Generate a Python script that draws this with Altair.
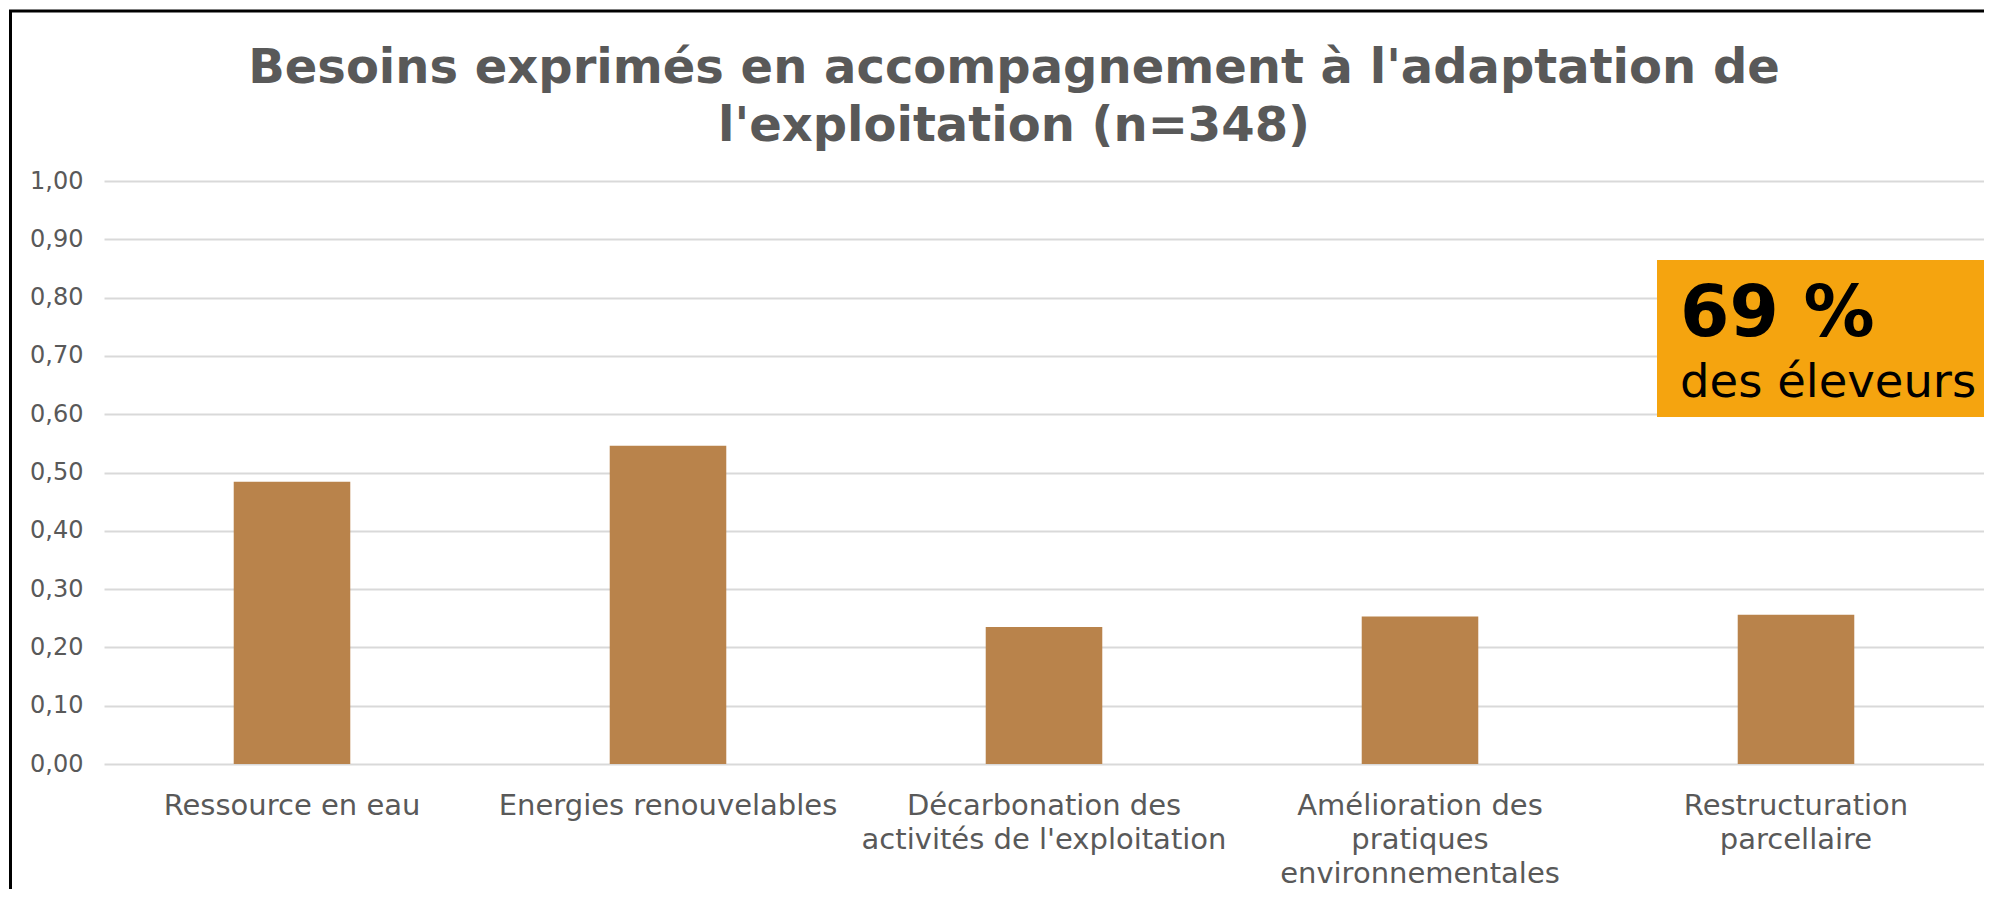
import altair as alt
import pandas as pd

# ---- data -------------------------------------------------------------
categories = [
    "Ressource en eau",
    "Energies renouvelables",
    "Décarbonation des\nactivités de l'exploitation",
    "Amélioration des\npratiques\nenvironnementales",
    "Restructuration\nparcellaire",
]
values = [0.484, 0.546, 0.235, 0.253, 0.256]
y_ticks = [0.0, 0.1, 0.2, 0.3, 0.4, 0.5, 0.6, 0.7, 0.8, 0.9, 1.0]
title_line1 = "Besoins exprimés en accompagnement à l'adaptation de"
title_line2 = "l'exploitation (n=348)"
callout_big = "69 %"
callout_small = "des éleveurs"

df = pd.DataFrame({"cat": categories, "val": values})

W = 1880
H = 583
GRAY = "#595959"
FONT = "DejaVu Sans"

bars = alt.Chart(df).mark_bar(color="#B9834B").encode(
    x=alt.X(
        "cat:N",
        sort=categories,
        scale=alt.Scale(paddingInner=0.69, paddingOuter=0.345),
        axis=alt.Axis(
            title="",
            labelAngle=0,
            domain=False,
            ticks=False,
            labelFont=FONT,
            labelFontSize=29,
            labelColor=GRAY,
            labelPadding=27,
            labelLimit=500,
            labelLineHeight=34,
            labelBaseline="top",
            labelExpr="split(datum.label, '\\n')",
        ),
    ),
    y=alt.Y(
        "val:Q",
        scale=alt.Scale(domain=[0, 1], nice=False),
        axis=alt.Axis(
            title="",
            values=y_ticks,
            format=".2f",
            labelExpr="replace(datum.label, '.', ',')",
            domain=False,
            ticks=False,
            grid=True,
            gridColor="#D9D9D9",
            gridWidth=2,
            labelFont=FONT,
            labelFontSize=24,
            labelColor=GRAY,
            labelPadding=21,
        ),
    ),
)

one = alt.Data(values=[{}])

frame = alt.Chart(one).mark_rect(
    fillOpacity=0, stroke="black", strokeWidth=3
).encode(
    x=alt.value(-93.5),
    x2=alt.value(W + 200),
    y=alt.value(-170),
    y2=alt.value(H + 300),
)

title1 = alt.Chart(one).mark_text(
    align="center", baseline="alphabetic", font=FONT, fontWeight="bold",
    fontSize=48, color=GRAY
).encode(x=alt.value(910), y=alt.value(-98), text=alt.value(title_line1))

title2 = alt.Chart(one).mark_text(
    align="center", baseline="alphabetic", font=FONT, fontWeight="bold",
    fontSize=48, color=GRAY
).encode(x=alt.value(910), y=alt.value(-40), text=alt.value(title_line2))

box = alt.Chart(one).mark_rect(color="#F5A40F").encode(
    x=alt.value(1553),
    x2=alt.value(W + 50),
    y=alt.value(79),
    y2=alt.value(236),
)

big = alt.Chart(one).mark_text(
    align="left", baseline="alphabetic", font=FONT, fontWeight="bold",
    fontSize=71, color="black"
).encode(x=alt.value(1576), y=alt.value(155), text=alt.value(callout_big))

small = alt.Chart(one).mark_text(
    align="left", baseline="alphabetic", font=FONT,
    fontSize=46.5, color="black"
).encode(x=alt.value(1576), y=alt.value(216), text=alt.value(callout_small))

chart = alt.layer(bars, box, big, small, title1, title2, frame).properties(
    width=W,
    height=H,
    padding={"left": 96, "top": 173, "right": 0, "bottom": 125},
    autosize=alt.AutoSizeParams(type="none"),
).configure_view(stroke="transparent")

chart.save("out.html", embed_options={"renderer": "svg", "actions": False})
